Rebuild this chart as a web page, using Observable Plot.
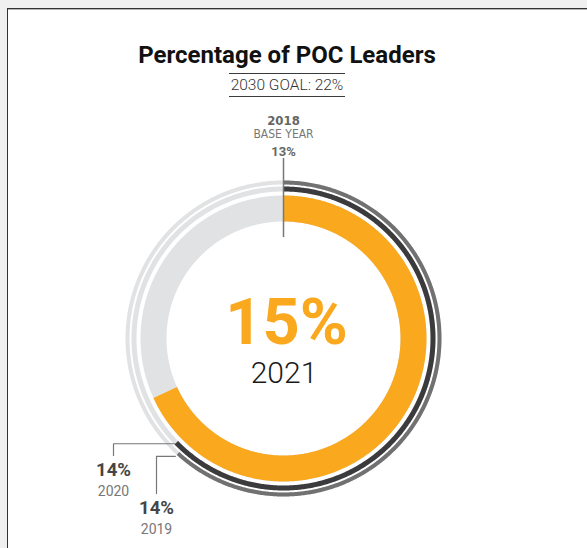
<!DOCTYPE html>
<html>
<head>
<meta charset="utf-8">
<script src="https://cdn.jsdelivr.net/npm/d3@7"></script>
<script src="https://cdn.jsdelivr.net/npm/@observablehq/plot@0.6"></script>
<style>
  html, body { margin: 0; padding: 0; background: #f0f0f0; width: 587px; height: 548px; overflow: hidden; font-family: Roboto, "Noto Sans", sans-serif; }
  #panel { position: absolute; left: 7px; top: 8px; width: 600px; height: 560px; background: #fff; border-top: 1px solid #333; border-left: 1px solid #333; box-shadow: inset 0 1px 0 #b4b4b4; }
  #title { position: absolute; left: 0; width: 574px; top: 43px; line-height: 24px; text-align: center; font-weight: 700; font-size: 24px; color: #111; }
  #sub { position: absolute; left: 229px; top: 73px; width: 116px; height: 22px; line-height: 22px; border-top: 1px solid #3a3a3a; border-bottom: 1px solid #3a3a3a; font-weight: 300; font-size: 15.5px; text-align: center; color: #333; white-space: nowrap; }
  #chart { position: absolute; left: 0; top: 0; }
</style>
</head>
<body>
<div id="panel"></div>
<div id="chart"></div>
<div id="title"></div>
<div id="sub"></div>
<script>
// ---- data ----
const chartTitle = "Percentage of POC Leaders";
const goalYear = "2030";
const goalValue = 22;
const baseYear = "2018";
const baseLabel = "BASE YEAR";
const baseValue = 13;
const years = ["2019", "2020", "2021"];
const values = [13.6, 13.8, 15.0];

// ---- layout / style ----
const CX = 283, CY = 338, R = 158;          // centre and outer radius (px)
const ringRadius = { "2019": 156, "2020": 149.5, "2021": 130 };   // mid radius px
const ringWidth  = { "2019": 4,   "2020": 5,     "2021": 26 };
const ringColor  = { "2019": "#717171", "2020": "#3b3b3d", "2021": "#FAA81D" };
const trackColor = "#e1e2e4";
const labelX = { "2019": 156, "2020": 113 };    // px
const labelLineBottom = { "2019": 493, "2020": 455 };
const connectorR = { "2019": 160, "2020": 151 };
const condensed = "'Liberation Sans Narrow', 'DejaVu Sans Condensed', 'Roboto'";

document.getElementById("title").textContent = chartTitle;
document.getElementById("sub").textContent = `${goalYear} GOAL: ${goalValue}%`;

const u = px => px / R;   // px -> scale units
function arc(year, v0, v1) {
  const r = u(ringRadius[year]);
  const n = Math.max(2, Math.ceil((v1 - v0) / goalValue * 720));
  const pts = [];
  for (let i = 0; i <= n; i++) {
    const v = v0 + (v1 - v0) * i / n;
    const a = v / goalValue * 2 * Math.PI;
    pts.push({ year, x: r * Math.sin(a), y: r * Math.cos(a) });
  }
  return pts;
}

const marks = [];
years.forEach((yr) => {
  marks.push(Plot.line(arc(yr, 0, goalValue), { x: "x", y: "y", stroke: trackColor, strokeWidth: ringWidth[yr], strokeLinecap: "butt" }));
});
years.forEach((yr, i) => {
  marks.push(Plot.line(arc(yr, 0, values[i]), { x: "x", y: "y", stroke: ringColor[yr], strokeWidth: ringWidth[yr], strokeLinecap: "butt" }));
});

// base-year marker
marks.push(Plot.ruleX([0], { y1: u(101), y2: u(180), stroke: "#777", strokeWidth: 1.5 }));
const markerTop = [{ x: 0, y: u(180) }];
marks.push(Plot.text(markerTop, { x: "x", y: "y", text: () => `${baseValue}%`, lineAnchor: "bottom", dy: -2.5, fontSize: 13, fontWeight: 700, fill: "#666", fontFamily: "Roboto" }));
marks.push(Plot.text(markerTop, { x: "x", y: "y", text: () => baseLabel, lineAnchor: "bottom", dy: -20.5, fontSize: 12, fontWeight: 400, fill: "#777", fontFamily: condensed }));
marks.push(Plot.text(markerTop, { x: "x", y: "y", text: () => baseYear, lineAnchor: "bottom", dy: -34, fontSize: 13, fontWeight: 700, fill: "#666", fontFamily: condensed }));

// centre value
const last = years.length - 1;
marks.push(Plot.text([{ x: 0, y: 0 }], { x: "x", y: "y", text: () => `${Math.round(values[last])}%`, lineAnchor: "bottom", dx: 3, dy: 5.5, fontSize: 65, fontWeight: 700, fill: ringColor[years[last]], fontFamily: "Roboto", letterSpacing: 1.5 }));
marks.push(Plot.text([{ x: 0, y: 0 }], { x: "x", y: "y", text: () => years[last], lineAnchor: "bottom", dx: 0.5, dy: 44, fontSize: 30, fontWeight: 300, fill: "#1a1a1a", fontFamily: "Roboto" }));

// labels for earlier years
years.slice(0, last).forEach((yr, i) => {
  const r = u(connectorR[yr]);
  const a = values[i] / goalValue * 2 * Math.PI;
  const ex = r * Math.sin(a), ey = r * Math.cos(a);
  const lx = u(labelX[yr] - CX), ly = u(CY - labelLineBottom[yr]);
  const path = [{ x: ex, y: ey }, { x: lx, y: ey }, { x: lx, y: ly }];
  marks.push(Plot.line(path, { x: "x", y: "y", stroke: "#777", strokeWidth: 1.2 }));
  marks.push(Plot.text([{ x: lx, y: ly }], { x: "x", y: "y", text: () => `${Math.round(values[i])}%`, lineAnchor: "bottom", dy: 20, fontSize: 18.5, fontWeight: 700, fill: "#454545", fontFamily: "Roboto", letterSpacing: 0.8 }));
  marks.push(Plot.text([{ x: lx, y: ly }], { x: "x", y: "y", text: () => yr, lineAnchor: "bottom", dy: 40, fontSize: 14, fontWeight: 400, fill: "#777", fontFamily: "Roboto" }));
});

const chart = Plot.plot({
  width: 587, height: 548, margin: 0,
  style: { background: "transparent", overflow: "visible" },
  x: { domain: [-1, 1], range: [CX - R, CX + R], axis: null },
  y: { domain: [-1, 1], range: [CY + R, CY - R], axis: null },
  marks
});
document.getElementById("chart").appendChild(chart);
</script>
</body>
</html>
